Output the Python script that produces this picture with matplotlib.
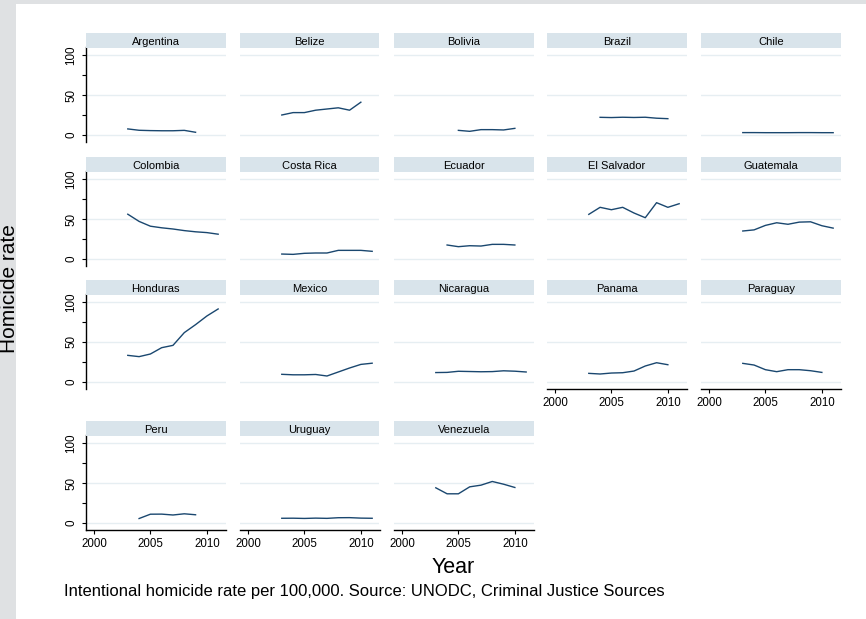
import matplotlib.pyplot as plt
from matplotlib.patches import Rectangle

plt.rcParams['font.family'] = ['Liberation Sans', 'DejaVu Sans']

# homicide rate per 100,000 by country, consecutive years starting at first_year
countries = ["Argentina", "Belize", "Bolivia", "Brazil", "Chile",
             "Colombia", "Costa Rica", "Ecuador", "El Salvador", "Guatemala",
             "Honduras", "Mexico", "Nicaragua", "Panama", "Paraguay",
             "Peru", "Uruguay", "Venezuela"]
first_year = [2003, 2003, 2005, 2004, 2003,
              2003, 2003, 2004, 2003, 2003,
              2003, 2003, 2003, 2003, 2003,
              2004, 2003, 2003]

argentina = [7.6, 5.9, 5.5, 5.3, 5.3, 5.8, 3.4]
belize = [25.0, 28.0, 28.0, 31.0, 32.5, 34.0, 31.0, 41.0]
bolivia = [5.8, 4.6, 6.7, 6.7, 6.3, 8.3]
brazil = [22.1, 21.8, 22.2, 21.9, 22.2, 21.0, 20.4]
chile = [3.0, 3.0, 2.9, 2.9, 2.9, 3.0, 3.0, 2.9, 2.9]
colombia = [56.0, 47.0, 41.0, 39.0, 37.5, 35.5, 34.0, 33.0, 31.0]
costa_rica = [6.2, 5.8, 7.1, 7.5, 7.5, 10.8, 10.8, 10.8, 9.6]
ecuador = [17.5, 15.4, 16.6, 16.2, 18.3, 18.3, 17.5]
el_salvador = [55.8, 64.6, 61.6, 64.6, 57.5, 51.6, 70.4, 64.6, 69.1]
guatemala = [35.0, 36.4, 42.0, 45.3, 43.4, 46.1, 46.5, 41.6, 38.6]
honduras = [33.3, 31.7, 35.0, 42.9, 45.8, 61.7, 71.7, 82.5, 91.3]
mexico = [9.6, 9.0, 9.0, 9.4, 7.5, 12.5, 17.5, 22.0, 23.5]
nicaragua = [11.8, 12.0, 13.4, 13.1, 12.8, 13.0, 14.0, 13.5, 12.5]
panama = [10.8, 10.0, 11.2, 11.6, 13.7, 20.0, 24.1, 21.6]
paraguay = [23.3, 21.2, 15.4, 12.9, 15.4, 15.4, 14.1, 12.0]
peru = [5.6, 11.0, 11.1, 10.0, 11.5, 10.3]
uruguay = [5.9, 6.0, 5.7, 6.1, 5.8, 6.6, 6.7, 6.1, 5.9]
venezuela = [44.0, 36.5, 36.5, 45.2, 47.3, 51.9, 48.5, 44.4]

rates = [argentina, belize, bolivia, brazil, chile,
         colombia, costa_rica, ecuador, el_salvador, guatemala,
         honduras, mexico, nicaragua, panama, paraguay,
         peru, uruguay, venezuela]

W, H = 866, 619
fig = plt.figure(figsize=(W / 100, H / 100), dpi=100)
fig.patch.set_facecolor('white')

# grey frame on the top and left edges
fig.patches.append(Rectangle((0, 0), 16 / W, 1, transform=fig.transFigure,
                             facecolor='#dfe1e3', edgecolor='none', zorder=0))
fig.patches.append(Rectangle((0, 1 - 4 / H), 1, 4 / H, transform=fig.transFigure,
                             facecolor='#dfe1e3', edgecolor='none', zorder=0))

navy = '#1a476f'
strip_col = '#d9e4eb'
grid_col = '#e6eef2'

col_left = [86, 240, 394, 547, 701]
row_zero = [135, 259, 382, 523]
pan_w = 139.5
ncols = 5


def add_px_axes(left, top, width, height):
    return fig.add_axes([left / W, 1 - (top + height) / H, width / W, height / H])


for i, name in enumerate(countries):
    r, c = divmod(i, ncols)
    left = col_left[c]
    top = row_zero[r] - 88
    ax = add_px_axes(left, top, pan_w, 95)
    vals = rates[i]
    yrs = list(range(first_year[i], first_year[i] + len(vals)))

    for g in (0, 50, 100):
        ax.axhline(g, color=grid_col, lw=1.0, zorder=1)
    ax.plot(yrs, vals, color=navy, lw=1.0, zorder=3)
    ax.set_xlim(1999.3, 2011.65)
    ax.set_ylim(-8.75, 110)

    for s in ax.spines.values():
        s.set_visible(False)

    # y axis only on the first column
    if c == 0:
        ax.spines['left'].set_visible(True)
        ax.spines['left'].set_linewidth(1.0)
        ax.set_yticks([0, 25, 50, 75, 100])
        ax.set_yticklabels(['0', '', '50', '', '100'], rotation=90, va='center')
        ax.tick_params(axis='y', length=3, width=0.8, pad=3, labelsize=8.4)
    else:
        ax.set_yticks([])

    # x axis only on panels with nothing below
    if i + ncols >= len(countries):
        ax.spines['bottom'].set_visible(True)
        ax.spines['bottom'].set_linewidth(1.0)
        ax.set_xticks([2000, 2005, 2010])
        ax.tick_params(axis='x', length=3, width=0.8, pad=2.5, labelsize=8.3)
    else:
        ax.set_xticks([])

    # header strip with the country name
    st = add_px_axes(left, top - 14, pan_w, 15)
    st.set_facecolor(strip_col)
    st.set_xticks([])
    st.set_yticks([])
    for s in st.spines.values():
        s.set_visible(False)
    st.text(0.5, 0.42, name, ha='center', va='center', fontsize=8,
            transform=st.transAxes)

fig.text(19.5 / W, 1 - 289 / H, 'Homicide rate', rotation=90,
         ha='right', va='center', fontsize=15)
fig.text(453 / W, 1 - 573 / H, 'Year', ha='center', va='baseline', fontsize=15.5)
fig.text(64 / W, 1 - 596 / H,
         'Intentional homicide rate per 100,000. Source: UNODC, Criminal Justice Sources',
         ha='left', va='baseline', fontsize=12)

fig.savefig('out.png', dpi=100)
